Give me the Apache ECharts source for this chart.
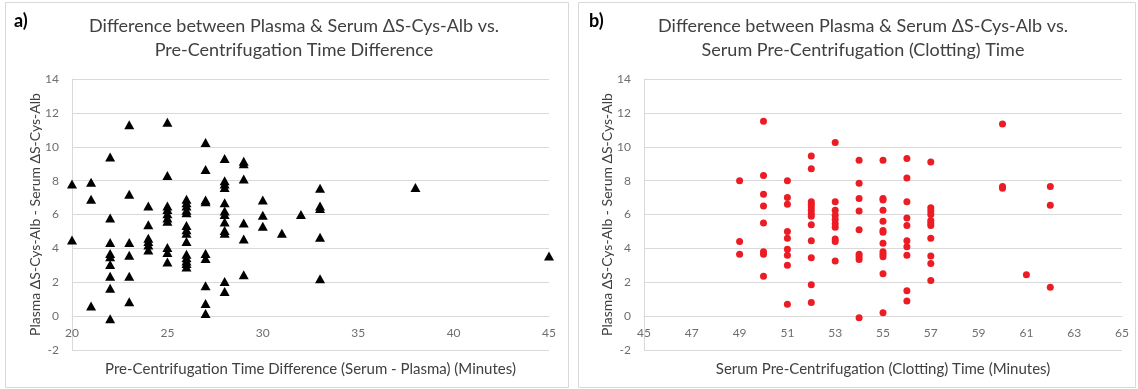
<!DOCTYPE html>
<html>
<head>
<meta charset="utf-8">
<script src="https://cdn.jsdelivr.net/npm/echarts@6/dist/echarts.min.js"></script>
<style>
  html, body { margin: 0; padding: 0; background: #fff; }
  #chart { width: 1138px; height: 389px; }
</style>
</head>
<body>
<div id="chart"></div>
<script>
// panel a) : time difference (serum - plasma) vs. difference of ΔS-Cys-Alb
var timeDiff = [
  20, 20,
  21, 21, 21,
  22, 22, 22, 22, 22, 22, 22, 22, 22,
  23, 23, 23, 23, 23, 23,
  24, 24, 24, 24, 24, 24,
  25, 25, 25, 25, 25, 25, 25, 25, 25, 25,
  26, 26, 26, 26, 26, 26, 26, 26, 26, 26, 26, 26, 26, 26,
  27, 27, 27, 27, 27, 27, 27, 27, 27,
  28, 28, 28, 28, 28, 28, 28, 28, 28, 28, 28, 28,
  29, 29, 29, 29, 29, 29,
  30, 30, 30,
  31,
  32,
  33, 33, 33, 33, 33,
  38,
  45
];
var diffA = [
  7.8, 4.5,
  7.9, 6.9, 0.6,
  9.4, 5.8, 4.35, 3.7, 3.5, 3.05, 2.35, 1.65, -0.15,
  11.3, 7.2, 4.35, 3.6, 2.35, 0.85,
  6.5, 5.4, 4.6, 4.4, 4.2, 3.9,
  11.45, 8.3, 6.5, 6.3, 6.05, 5.8, 5.6, 4.05, 3.75, 3.2,
  6.9, 6.7, 6.5, 6.25, 6.1, 5.35, 5.1, 4.9, 4.4, 3.65, 3.45, 3.25, 3.1, 2.9,
  10.25, 8.65, 6.85, 6.75, 3.7, 3.4, 1.8, 0.75, 0.15,
  9.3, 8.0, 7.8, 7.6, 6.7, 6.2, 6.0, 5.55, 5.05, 4.9, 2.05, 1.45,
  9.15, 9.0, 8.1, 5.5, 4.55, 2.45,
  6.85, 5.95, 5.3,
  4.9,
  6.0,
  7.55, 6.5, 6.35, 4.65, 2.2,
  7.6,
  3.55
];

// panel b) : serum clotting time vs. difference of ΔS-Cys-Alb
var clotTime = [
  49, 49, 49,
  50, 50, 50, 50, 50, 50, 50, 50,
  51, 51, 51, 51, 51, 51, 51, 51, 51,
  52, 52, 52, 52, 52, 52, 52, 52, 52, 52, 52, 52, 52,
  53, 53, 53, 53, 53, 53, 53, 53, 53, 53,
  54, 54, 54, 54, 54, 54, 54, 54, 54,
  55, 55, 55, 55, 55, 55, 55, 55, 55, 55, 55, 55, 55,
  56, 56, 56, 56, 56, 56, 56, 56, 56, 56,
  57, 57, 57, 57, 57, 57, 57, 57, 57, 57, 57,
  60, 60, 60,
  61,
  62, 62, 62
];
var diffB = [
  8.0, 4.4, 3.65,
  11.5, 8.3, 7.2, 6.5, 5.5, 3.8, 3.65, 2.35,
  8.0, 7.0, 6.6, 5.0, 4.6, 3.95, 3.6, 3.0, 0.7,
  9.45, 8.7, 6.75, 6.6, 6.45, 6.25, 6.05, 5.9, 5.4, 4.45, 3.45, 1.85, 0.8,
  10.25, 6.75, 6.25, 5.95, 5.7, 5.45, 5.25, 4.55, 4.4, 3.25,
  9.2, 7.85, 6.95, 6.2, 5.1, 3.65, 3.5, 3.35, -0.1,
  9.2, 6.95, 6.85, 6.25, 5.6, 5.05, 4.95, 4.3, 3.8, 3.65, 3.5, 2.5, 0.2,
  9.3, 8.15, 6.75, 5.8, 5.35, 4.45, 4.1, 3.6, 1.5, 0.9,
  9.1, 6.4, 6.2, 6.0, 5.65, 5.5, 5.35, 4.6, 3.55, 3.1, 2.1,
  11.35, 7.65, 7.55,
  2.45,
  7.65, 6.55, 1.7
];

var yTicks = { min: -2, max: 14, interval: 2 };
var xTicksA = { min: 20, max: 45, interval: 5 };
var xTicksB = { min: 45, max: 65, interval: 2 };

function pairs(xs, ys) {
  var out = [];
  for (var i = 0; i < xs.length; i++) out.push([xs[i], ys[i]]);
  return out;
}

var FONT = 'Lato';
var GRID_C = '#d9d9d9';
var LABEL_C = '#6e6e6e';
var NAME_C = '#404040';

// x axis is drawn where y = 0 (Excel style), i.e. 34px above the grid bottom
function xAxisOf(idx, t, name) {
  return {
    type: 'value', gridIndex: idx,
    min: t.min, max: t.max, interval: t.interval,
    offset: -34,
    axisLine: { show: true, onZero: false, lineStyle: { color: GRID_C, width: 1 } },
    axisTick: { show: false },
    splitLine: { show: false },
    axisLabel: { color: LABEL_C, fontFamily: FONT, fontSize: 12, margin: 11 },
    name: name, nameLocation: 'middle', nameGap: 46, nameMoveOverlap: false,
    nameTextStyle: { color: NAME_C, fontFamily: FONT, fontSize: 15 }
  };
}
function yAxisOf(idx) {
  return {
    type: 'value', gridIndex: idx,
    min: yTicks.min, max: yTicks.max, interval: yTicks.interval,
    axisLine: { show: true, lineStyle: { color: GRID_C, width: 1 } },
    axisTick: { show: false },
    splitLine: { show: true, lineStyle: { color: GRID_C, width: 1 } },
    axisLabel: { color: LABEL_C, fontFamily: FONT, fontSize: 12, margin: 13 },
    name: 'Plasma ΔS-Cys-Alb - Serum ΔS-Cys-Alb', nameLocation: 'middle', nameGap: 30,
    nameMoveOverlap: false,
    nameTextStyle: { color: NAME_C, fontFamily: FONT, fontSize: 14 }
  };
}

var chart = echarts.init(document.getElementById('chart'));
chart.setOption({
  backgroundColor: '#fff',
  animation: false,
  title: [
    { text: 'a)', left: 9, top: 7, textStyle: { fontFamily: FONT, fontSize: 18, fontWeight: 'bold', color: '#000' } },
    { text: 'b)', left: 584, top: 7, textStyle: { fontFamily: FONT, fontSize: 18, fontWeight: 'bold', color: '#000' } },
    {
      text: 'Difference between Plasma & Serum ΔS-Cys-Alb vs.\nPre-Centrifugation Time Difference',
      left: 289, top: 9, textAlign: 'center',
      textStyle: { fontFamily: FONT, fontSize: 18, lineHeight: 24, fontWeight: 'normal', color: NAME_C }
    },
    {
      text: 'Difference between Plasma & Serum ΔS-Cys-Alb vs.\nSerum Pre-Centrifugation (Clotting) Time',
      left: 858, top: 9, textAlign: 'center',
      textStyle: { fontFamily: FONT, fontSize: 18, lineHeight: 24, fontWeight: 'normal', color: NAME_C }
    }
  ],
  graphic: [
    { type: 'rect', shape: { x: 5.5, y: 2.5, width: 563, height: 385 }, style: { fill: 'none', stroke: GRID_C, lineWidth: 1 } },
    { type: 'rect', shape: { x: 578.5, y: 2.5, width: 557, height: 385 }, style: { fill: 'none', stroke: GRID_C, lineWidth: 1 } }
  ],
  grid: [
    { left: 72, top: 79, width: 477, height: 271, outerBoundsMode: 'none', containLabel: false },
    { left: 644, top: 79, width: 478, height: 271, outerBoundsMode: 'none', containLabel: false }
  ],
  xAxis: [
    xAxisOf(0, xTicksA, 'Pre-Centrifugation Time Difference (Serum - Plasma) (Minutes)'),
    xAxisOf(1, xTicksB, 'Serum Pre-Centrifugation (Clotting) Time (Minutes)')
  ],
  yAxis: [yAxisOf(0), yAxisOf(1)],
  series: [
    {
      type: 'scatter', xAxisIndex: 0, yAxisIndex: 0,
      symbol: 'triangle', symbolSize: [10, 9],
      itemStyle: { color: '#000', opacity: 1 },
      data: pairs(timeDiff, diffA)
    },
    {
      type: 'scatter', xAxisIndex: 1, yAxisIndex: 1,
      symbol: 'circle', symbolSize: 7,
      itemStyle: { color: '#ec1c24', opacity: 1 },
      data: pairs(clotTime, diffB)
    }
  ]
});
</script>
</body>
</html>
